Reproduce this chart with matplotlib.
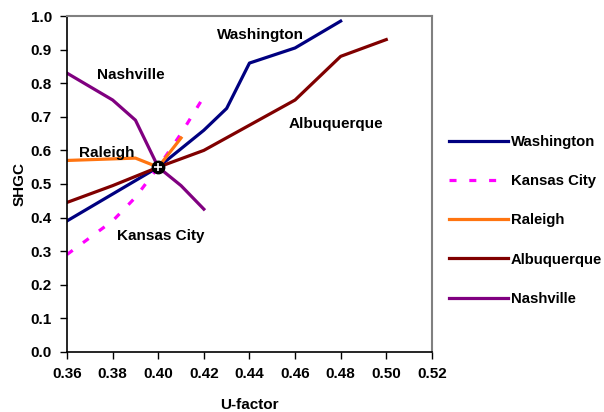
import matplotlib
matplotlib.use("Agg")
import matplotlib.pyplot as plt

plt.rcParams["font.family"] = ["Liberation Sans", "DejaVu Sans"]
plt.rcParams["font.weight"] = "bold"

# -- data --
wash_u    = [0.36, 0.38, 0.40, 0.42, 0.43, 0.44, 0.46, 0.48]
wash_shgc = [0.39, 0.47, 0.55, 0.66, 0.725, 0.86, 0.905, 0.985]

kc_u    = [0.36, 0.38, 0.39, 0.40, 0.41, 0.42]
kc_shgc = [0.29, 0.39, 0.46, 0.55, 0.65, 0.76]

ral_u    = [0.36, 0.39, 0.40, 0.41]
ral_shgc = [0.57, 0.577, 0.55, 0.637]

abq_u    = [0.36, 0.38, 0.40, 0.42, 0.44, 0.46, 0.48, 0.50]
abq_shgc = [0.445, 0.495, 0.55, 0.60, 0.675, 0.75, 0.88, 0.93]

nash_u    = [0.36, 0.38, 0.39, 0.40, 0.41, 0.42]
nash_shgc = [0.83, 0.75, 0.69, 0.55, 0.495, 0.425]

center_u    = [0.40]
center_shgc = [0.55]

x_ticks = [0.36, 0.38, 0.40, 0.42, 0.44, 0.46, 0.48, 0.50, 0.52]
y_ticks = [0.0, 0.1, 0.2, 0.3, 0.4, 0.5, 0.6, 0.7, 0.8, 0.9, 1.0]

# labels placed inside the plot (text, u, shgc)
city_notes = [
    ("Washington", 0.4447, 0.943),
    ("Nashville", 0.388, 0.825),
    ("Raleigh", 0.3775, 0.592),
    ("Kansas City", 0.4012, 0.345),
    ("Albuquerque", 0.478, 0.68),
]

fig = plt.figure(figsize=(6.04, 4.12), dpi=100)
ax = fig.add_axes([0.111, 0.146, 0.604, 0.815])

lw = 2.3
ax.plot(wash_u, wash_shgc, color="#000080", lw=lw, label="Washington")
ax.plot(kc_u, kc_shgc, color="#FF00FF", lw=lw, dashes=(2.2, 4.0), label="Kansas City")
ax.plot(ral_u, ral_shgc, color="#FF7410", lw=lw, label="Raleigh")
ax.plot(abq_u, abq_shgc, color="#800000", lw=lw, label="Albuquerque")
ax.plot(nash_u, nash_shgc, color="#800080", lw=lw, label="Nashville")

# crosshair marker at the common point
ax.scatter(center_u, center_shgc, s=80, color="black", zorder=5)
ax.scatter(center_u, center_shgc, s=35, marker="+", color="white",
           linewidths=1.2, zorder=6)

for txt, u, s in city_notes:
    ax.text(u, s, txt, ha="center", va="center", fontsize=11, fontweight="bold")

ax.set_xlim(0.36, 0.52)
ax.set_ylim(0.0, 1.0)
ax.set_xticks(x_ticks)
ax.set_yticks(y_ticks)
ax.set_xticklabels([f"{v:.2f}" for v in x_ticks])
ax.set_yticklabels([f"{v:.1f}" for v in y_ticks])
ax.tick_params(direction="out", length=5, width=1, labelsize=11, pad=6)
for lab in ax.get_xticklabels() + ax.get_yticklabels():
    lab.set_fontweight("bold")

ax.set_xlabel("U-factor", fontsize=11, fontweight="bold", labelpad=12)
ax.set_ylabel("SHGC", fontsize=11, fontweight="bold", labelpad=2.5)

for side in ["left", "bottom"]:
    ax.spines[side].set_color("black")
    ax.spines[side].set_linewidth(1.2)
for side in ["top", "right"]:
    ax.spines[side].set_color("#808080")
    ax.spines[side].set_linewidth(1.5)

leg = fig.legend(loc="upper left", bbox_to_anchor=(0.733, 0.687), frameon=False,
                 fontsize=10.7, handlelength=3.97, labelspacing=1.7,
                 handletextpad=0.2, borderaxespad=0)
for t in leg.get_texts():
    t.set_fontweight("bold")

fig.savefig("out.png", dpi=100)
